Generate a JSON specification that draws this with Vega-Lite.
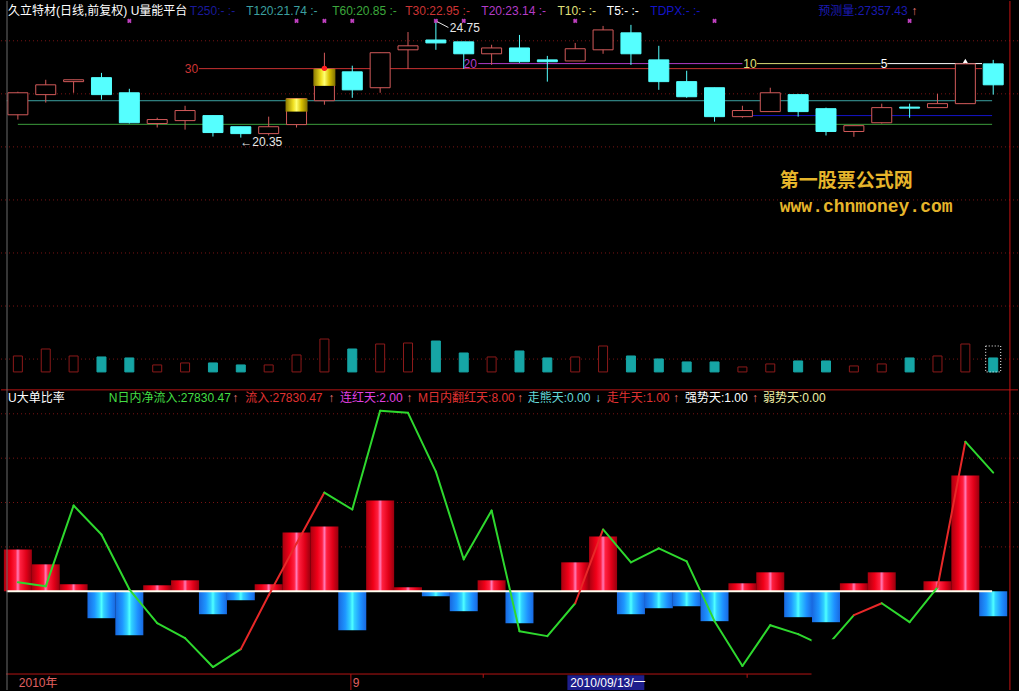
{
"$schema":"https://vega.github.io/schema/vega-lite/v6.json",
"width":1019,"height":691,
"autosize":{"type":"fit","contains":"padding"},
"padding":0,
"background":"#000000",
"config":{"view":{"stroke":null}},
"resolve":{"scale":{"y":"independent","color":"independent","fill":"independent","stroke":"independent"}},
"datasets":{
"k":[
{"i":1,"o":21.21,"h":22.08,"l":21.03,"c":22.04,"v":16,"b":9.44,"n":2.02,"s":"g"},
{"i":2,"o":21.97,"h":22.53,"l":21.67,"c":22.34,"v":23,"b":6.07,"n":1.12,"s":"g"},
{"i":3,"o":22.46,"h":22.53,"l":22.04,"c":22.53,"v":16,"b":1.57,"n":19.33,"s":"g"},
{"i":4,"o":22.61,"h":22.79,"l":21.78,"c":21.97,"v":15,"b":-6.07,"n":12.81,"s":"g"},
{"i":5,"o":22.04,"h":22.19,"l":20.88,"c":20.91,"v":14,"b":-9.89,"n":0.45,"s":"g"},
{"i":6,"o":20.88,"h":21.10,"l":20.73,"c":21.03,"v":7,"b":1.35,"n":-7.19,"s":"g"},
{"i":7,"o":20.99,"h":21.55,"l":20.65,"c":21.37,"v":9,"b":2.47,"n":-10.56,"s":"g"},
{"i":8,"o":21.18,"h":21.18,"l":20.39,"c":20.54,"v":9,"b":-5.17,"n":-17.08,"s":"g"},
{"i":9,"o":20.76,"h":20.76,"l":20.35,"c":20.50,"v":7,"b":-2.02,"n":-13.03,"s":"r"},
{"i":10,"o":20.50,"h":21.14,"l":20.43,"c":20.76,"v":7,"b":1.57,"n":-0.90,"s":"r"},
{"i":11,"o":20.84,"h":21.82,"l":20.73,"c":21.82,"v":17,"b":13.26,"n":10.79,"s":"r"},
{"i":12,"o":21.74,"h":23.55,"l":21.59,"c":22.94,"v":33,"b":14.61,"n":22.25,"s":"g"},
{"i":13,"o":22.83,"h":23.06,"l":21.85,"c":22.15,"v":23,"b":-8.76,"n":18.43,"s":"g"},
{"i":14,"o":22.23,"h":23.55,"l":22.04,"c":23.55,"v":28,"b":20.45,"n":40.67,"s":"g"},
{"i":15,"o":23.66,"h":24.33,"l":22.94,"c":23.81,"v":29,"b":0.90,"n":40.22,"s":"g"},
{"i":16,"o":24.03,"h":24.75,"l":23.66,"c":23.92,"v":31,"b":-1.12,"n":26.97,"s":"g"},
{"i":17,"o":23.96,"h":23.96,"l":22.94,"c":23.51,"v":19,"b":-4.49,"n":7.19,"s":"g"},
{"i":18,"o":23.51,"h":23.85,"l":23.09,"c":23.73,"v":15,"b":2.47,"n":18.20,"s":"g"},
{"i":19,"o":23.73,"h":24.22,"l":23.17,"c":23.21,"v":21,"b":-7.19,"n":-8.99,"s":"g"},
{"i":20,"o":23.28,"h":23.43,"l":22.46,"c":23.21,"v":14,"b":0,"n":-10.11,"s":"g"},
{"i":21,"o":23.24,"h":23.92,"l":23.24,"c":23.70,"v":15,"b":6.52,"n":-2.70,"s":"r"},
{"i":22,"o":23.66,"h":24.56,"l":23.51,"c":24.41,"v":26,"b":12.36,"n":13.93,"s":"g"},
{"i":23,"o":24.30,"h":24.60,"l":23.09,"c":23.51,"v":16,"b":-5.17,"n":6.52,"s":"g"},
{"i":24,"o":23.28,"h":23.81,"l":22.15,"c":22.46,"v":13,"b":-3.82,"n":9.66,"s":"g"},
{"i":25,"o":22.46,"h":22.87,"l":21.85,"c":21.89,"v":10,"b":-3.37,"n":6.74,"s":"g"},
{"i":26,"o":22.23,"h":22.23,"l":20.95,"c":21.14,"v":10,"b":-6.74,"n":-6.74,"s":"g"},
{"i":27,"o":21.14,"h":21.55,"l":21.10,"c":21.37,"v":5,"b":1.80,"n":-16.85,"s":"g"},
{"i":28,"o":21.33,"h":22.23,"l":21.33,"c":22.04,"v":8,"b":4.27,"n":-7.64,"s":"g"},
{"i":29,"o":21.97,"h":22.00,"l":21.14,"c":21.33,"v":11,"b":-5.84,"n":-9.66,"s":"g"},
{"i":30,"o":21.44,"h":21.48,"l":20.43,"c":20.58,"v":11,"b":-6.97,"n":-12.58,"s":"g"},
{"i":31,"o":20.58,"h":20.80,"l":20.38,"c":20.80,"v":6,"b":1.80,"n":-5.39,"s":"r"},
{"i":32,"o":20.91,"h":21.63,"l":20.88,"c":21.48,"v":8,"b":4.27,"n":-2.70,"s":"g"},
{"i":33,"o":21.50,"h":21.63,"l":21.10,"c":21.46,"v":14,"b":0,"n":-6.97,"s":"g"},
{"i":34,"o":21.48,"h":22.00,"l":21.48,"c":21.63,"v":16,"b":2.25,"n":0.90,"s":"r"},
{"i":35,"o":21.63,"h":23.21,"l":21.63,"c":23.13,"v":28,"b":26.07,"n":33.71,"s":"g"},
{"i":36,"o":23.13,"h":23.28,"l":21.97,"c":22.34,"v":14,"b":-5.62,"n":26.74,"s":"g"}
],
"lv":[
{"key":"T120","p":21.74,"a":0.6,"b":35.96},
{"key":"T60","p":20.85,"a":1.0,"b":35.96},
{"key":"TDPX","p":21.18,"a":26.9,"b":35.96},
{"key":"T30","p":22.95,"a":7.5,"b":35.6},
{"key":"T20","p":23.14,"a":17.52,"b":27.0},
{"key":"T10","p":23.14,"a":27.52,"b":31.96},
{"key":"T5","p":23.14,"a":32.2,"b":35.6}
],
"tp":[
{"i":0.645,"p":25.124,"t":"久立特材(日线,前复权) U量能平台","k":"name"},
{"i":7.17,"p":25.124,"t":"T250:-  :-","k":"T250"},
{"i":9.191,"p":25.124,"t":"T120:21.74 :-","k":"T120"},
{"i":12.277,"p":25.124,"t":"T60:20.85 :-","k":"T60"},
{"i":14.901,"p":25.124,"t":"T30:22.95 :-","k":"T30"},
{"i":17.631,"p":25.124,"t":"T20:23.14 :-","k":"T20"},
{"i":20.362,"p":25.124,"t":"T10:- :-","k":"T10"},
{"i":22.135,"p":25.124,"t":"T5:- :-","k":"T5"},
{"i":23.695,"p":25.124,"t":"TDPX:- :-","k":"TDPX"},
{"i":29.723,"p":25.124,"t":"预测量:27357.43","k":"YC"},
{"i":33.06,"p":25.124,"t":"↑","k":"up"},
{"i":6.99,"p":22.95,"t":"30","k":"T30"},
{"i":16.99,"p":23.14,"t":"20","k":"T20"},
{"i":27.03,"p":23.14,"t":"10","k":"T10"},
{"i":31.96,"p":23.14,"t":"5","k":"T5"},
{"i":8.98,"p":20.2,"t":"←20.35","k":"ann"},
{"i":16.5,"p":24.49,"t":"24.75","k":"ann"}
],
"tl":[
{"i":0.645,"y":43.6,"t":"U大单比率","k":"name"},
{"i":4.262,"y":43.6,"t":"N日内净流入:27830.47","k":"N"},
{"i":8.695,"y":43.6,"t":"↑","k":"up"},
{"i":9.156,"y":43.6,"t":"流入:27830.47","k":"flow"},
{"i":12.135,"y":43.6,"t":"↑","k":"up"},
{"i":12.56,"y":43.6,"t":"连红天:2.00","k":"lian"},
{"i":14.936,"y":43.6,"t":"↑","k":"up"},
{"i":15.362,"y":43.6,"t":"M日内翻红天:8.00","k":"M"},
{"i":18.908,"y":43.6,"t":"↑","k":"up"},
{"i":19.298,"y":43.6,"t":"走熊天:0.00","k":"bear"},
{"i":21.709,"y":43.6,"t":"↓","k":"down"},
{"i":22.135,"y":43.6,"t":"走牛天:1.00","k":"bull"},
{"i":24.511,"y":43.6,"t":"↑","k":"up"},
{"i":24.936,"y":43.6,"t":"强势天:1.00","k":"strong"},
{"i":27.348,"y":43.6,"t":"↑","k":"up"},
{"i":27.738,"y":43.6,"t":"弱势天:0.00","k":"weak"},
{"i":1.035,"y":-20.67,"t":"2010年","k":"ax"},
{"i":13.02,"y":-20.67,"t":"9","k":"ax"},
{"i":20.82,"y":-20.67,"t":"2010/09/13/一","k":"date"}
]
},
"layer":[
{"data":{"values":[{"g":24},{"g":22},{"g":20},{"g":18},{"g":16},{"g":14},{"g":12}]},
 "mark":{"type":"rule","color":"#7a1414","strokeDash":[1,3],"strokeWidth":1},
 "encoding":{"y":{"field":"g","type":"quantitative","scale":{"domain":[-0.477,25.5],"nice":false,"zero":false},"axis":null}}},
{"data":{"values":[{"g":10},{"g":20},{"g":30},{"g":40}]},
 "mark":{"type":"rule","color":"#7a1414","strokeDash":[1,3],"strokeWidth":1},
 "encoding":{"y":{"field":"g","type":"quantitative","scale":{"domain":[-22.25,133.03],"nice":false,"zero":false},"axis":null}}},
{"data":{"name":"lv"},
 "mark":{"type":"rule","strokeWidth":1},
 "encoding":{
  "x":{"field":"a","type":"quantitative","scale":{"domain":[0.574,36.71],"nice":false,"zero":false},"axis":null},
  "x2":{"field":"b"},
  "y":{"field":"p","type":"quantitative","scale":{"domain":[-0.477,25.5],"nice":false,"zero":false},"axis":null},
  "color":{"field":"key","type":"nominal","legend":null,"scale":{"domain":["T120","T60","TDPX","T30","T20","T10","T5"],"range":["#3ca0a0","#3c9c3c","#1414c8","#c83232","#b03cc8","#dcdc78","#ffffff"]}}}},
{"data":{"name":"k"},
 "mark":{"type":"bar","width":9,"strokeWidth":1},
 "encoding":{
  "x":{"field":"i","type":"quantitative","scale":{"domain":[0.574,36.71],"nice":false,"zero":false},"axis":null},
  "y":{"field":"v","type":"quantitative","scale":{"domain":[-319,372],"nice":false,"zero":false},"axis":null},
  "y2":{"datum":0},
  "fill":{"condition":{"test":"datum.c >= datum.o","value":"#000000"},"value":"#16a5a5"},
  "stroke":{"condition":{"test":"datum.c >= datum.o","value":"#8c1a1a"},"value":"#16a5a5"}}},
{"data":{"values":[{"i":36,"v":26}]},
 "mark":{"type":"bar","width":15,"fillOpacity":0,"stroke":"#ffffff","strokeDash":[1,2],"strokeWidth":1},
 "encoding":{
  "x":{"field":"i","type":"quantitative","scale":{"domain":[0.574,36.71],"nice":false,"zero":false},"axis":null},
  "y":{"field":"v","type":"quantitative","scale":{"domain":[-319,372],"nice":false,"zero":false},"axis":null},
  "y2":{"datum":0}}},
{"data":{"name":"k"},
 "mark":{"type":"rule","strokeWidth":1},
 "encoding":{
  "x":{"field":"i","type":"quantitative","scale":{"domain":[0.574,36.71],"nice":false,"zero":false},"axis":null},
  "y":{"field":"l","type":"quantitative","scale":{"domain":[-0.477,25.5],"nice":false,"zero":false},"axis":null},
  "y2":{"field":"h"},
  "color":{"condition":{"test":"datum.c >= datum.o","value":"#d25a5a"},"value":"#55ffff"}}},
{"data":{"name":"k"},
 "mark":{"type":"bar","width":20,"strokeWidth":1},
 "encoding":{
  "x":{"field":"i","type":"quantitative","scale":{"domain":[0.574,36.71],"nice":false,"zero":false},"axis":null},
  "y":{"field":"o","type":"quantitative","scale":{"domain":[-0.477,25.5],"nice":false,"zero":false},"axis":null},
  "y2":{"field":"c"},
  "fill":{"condition":{"test":"datum.c >= datum.o","value":"#000000"},"value":"#55ffff"},
  "stroke":{"condition":{"test":"datum.c >= datum.o","value":"#d25a5a"},"value":"#55ffff"}}},
{"data":{"values":[{"i":11,"g1":21.82,"g2":21.33},{"i":12,"g1":22.94,"g2":22.3}]},
 "mark":{"type":"bar","width":22,"fill":{"gradient":"linear","x1":0,"y1":0,"x2":1,"y2":0,"stops":[{"offset":0,"color":"#8a7800"},{"offset":0.35,"color":"#f0e020"},{"offset":0.5,"color":"#ffff70"},{"offset":0.72,"color":"#d8c000"},{"offset":1,"color":"#807000"}]}},
 "encoding":{
  "x":{"field":"i","type":"quantitative","scale":{"domain":[0.574,36.71],"nice":false,"zero":false},"axis":null},
  "y":{"field":"g1","type":"quantitative","scale":{"domain":[-0.477,25.5],"nice":false,"zero":false},"axis":null},
  "y2":{"field":"g2"}}},
{"data":{"values":[{"i":12,"p":22.96}]},
 "mark":{"type":"point","shape":"circle","filled":true,"size":30,"color":"#ff2020","opacity":1},
 "encoding":{
  "x":{"field":"i","type":"quantitative","scale":{"domain":[0.574,36.71],"nice":false,"zero":false},"axis":null},
  "y":{"field":"p","type":"quantitative","scale":{"domain":[-0.477,25.5],"nice":false,"zero":false},"axis":null}}},
{"data":{"values":[{"i":35,"p":23.24}]},
 "mark":{"type":"point","shape":"triangle-up","filled":true,"size":25,"color":"#ffffff","opacity":1},
 "encoding":{
  "x":{"field":"i","type":"quantitative","scale":{"domain":[0.574,36.71],"nice":false,"zero":false},"axis":null},
  "y":{"field":"p","type":"quantitative","scale":{"domain":[-0.477,25.5],"nice":false,"zero":false},"axis":null}}},
{"data":{"values":[{"i":5},{"i":11},{"i":12},{"i":13},{"i":16},{"i":17},{"i":21},{"i":26},{"i":33}]},
 "mark":{"type":"point","shape":"cross","angle":45,"filled":true,"size":22,"color":"#c040c0","opacity":1},
 "encoding":{
  "x":{"field":"i","type":"quantitative","scale":{"domain":[0.574,36.71],"nice":false,"zero":false},"axis":null},
  "y":{"datum":24.75,"type":"quantitative","scale":{"domain":[-0.477,25.5],"nice":false,"zero":false},"axis":null}}},
{"data":{"values":[{"i":16.05,"p":24.72,"i2":16.45,"p2":24.5}]},
 "mark":{"type":"rule","color":"#e8e8e8","strokeWidth":1},
 "encoding":{
  "x":{"field":"i","type":"quantitative","scale":{"domain":[0.574,36.71],"nice":false,"zero":false},"axis":null},
  "x2":{"field":"i2"},
  "y":{"field":"p","type":"quantitative","scale":{"domain":[-0.477,25.5],"nice":false,"zero":false},"axis":null},
  "y2":{"field":"p2"}}},
{"data":{"name":"tp"},
 "mark":{"type":"text","align":"left","baseline":"middle","fontSize":12,"font":"Liberation Sans, Noto Sans CJK SC"},
 "encoding":{
  "x":{"field":"i","type":"quantitative","scale":{"domain":[0.574,36.71],"nice":false,"zero":false},"axis":null},
  "y":{"field":"p","type":"quantitative","scale":{"domain":[-0.477,25.5],"nice":false,"zero":false},"axis":null},
  "text":{"field":"t"},
  "color":{"field":"k","type":"nominal","legend":null,"scale":{"domain":["name","T250","T120","T60","T30","T20","T10","T5","TDPX","YC","up","ann"],"range":["#ffffff","#1a1a9a","#3ca0a0","#3ca83c","#cc3434","#b43cc8","#e0e07a","#ffffff","#1414c8","#1a1ab0","#e87878","#e8e8e8"]}}}},
{"data":{"values":[{"i":28.34,"p":18.73,"t":"第一股票公式网"}]},
 "mark":{"type":"text","align":"left","baseline":"middle","fontSize":19,"fontWeight":"bold","font":"Noto Sans CJK SC","color":"#e6b52b"},
 "encoding":{
  "x":{"field":"i","type":"quantitative","scale":{"domain":[0.574,36.71],"nice":false,"zero":false},"axis":null},
  "y":{"field":"p","type":"quantitative","scale":{"domain":[-0.477,25.5],"nice":false,"zero":false},"axis":null},
  "text":{"field":"t"}}},
{"data":{"values":[{"i":28.34,"p":17.72,"t":"www.chnmoney.com"}]},
 "mark":{"type":"text","align":"left","baseline":"middle","fontSize":18,"fontWeight":"bold","font":"Liberation Mono","color":"#e6b52b"},
 "encoding":{
  "x":{"field":"i","type":"quantitative","scale":{"domain":[0.574,36.71],"nice":false,"zero":false},"axis":null},
  "y":{"field":"p","type":"quantitative","scale":{"domain":[-0.477,25.5],"nice":false,"zero":false},"axis":null},
  "text":{"field":"t"}}},
{"data":{"name":"k"},
 "transform":[{"filter":"datum.b > 0"}],
 "mark":{"type":"bar","width":28,"fill":{"gradient":"linear","x1":0,"y1":0,"x2":1,"y2":0,"stops":[{"offset":0,"color":"#a8000e"},{"offset":0.25,"color":"#f00018"},{"offset":0.42,"color":"#ff2040"},{"offset":0.5,"color":"#ff7ab8"},{"offset":0.58,"color":"#ff2040"},{"offset":0.8,"color":"#e00018"},{"offset":1,"color":"#98000e"}]}},
 "encoding":{
  "x":{"field":"i","type":"quantitative","scale":{"domain":[0.574,36.71],"nice":false,"zero":false},"axis":null},
  "y":{"field":"b","type":"quantitative","scale":{"domain":[-22.25,133.03],"nice":false,"zero":false},"axis":null},
  "y2":{"datum":0}}},
{"data":{"name":"k"},
 "transform":[{"filter":"datum.b < 0"}],
 "mark":{"type":"bar","width":28,"fill":{"gradient":"linear","x1":0,"y1":0,"x2":1,"y2":0,"stops":[{"offset":0,"color":"#1868e0"},{"offset":0.25,"color":"#1e96ff"},{"offset":0.42,"color":"#30d0ff"},{"offset":0.5,"color":"#50ffff"},{"offset":0.58,"color":"#30d0ff"},{"offset":0.8,"color":"#1e90ff"},{"offset":1,"color":"#1868e0"}]}},
 "encoding":{
  "x":{"field":"i","type":"quantitative","scale":{"domain":[0.574,36.71],"nice":false,"zero":false},"axis":null},
  "y":{"field":"b","type":"quantitative","scale":{"domain":[-22.25,133.03],"nice":false,"zero":false},"axis":null},
  "y2":{"datum":0}}},
{"data":{"values":[{"i":0.6,"i2":35.96,"z":0}]},
 "mark":{"type":"rule","color":"#fffff0","strokeWidth":2},
 "encoding":{
  "x":{"field":"i","type":"quantitative","scale":{"domain":[0.574,36.71],"nice":false,"zero":false},"axis":null},
  "x2":{"field":"i2"},
  "y":{"field":"z","type":"quantitative","scale":{"domain":[-22.25,133.03],"nice":false,"zero":false},"axis":null}}},
{"data":{"name":"k"},
 "transform":[{"window":[{"op":"lead","field":"i","as":"i2"},{"op":"lead","field":"n","as":"n2"}],"sort":[{"field":"i","order":"ascending"}]},{"filter":"datum.i2 != null"}],
 "mark":{"type":"rule","strokeWidth":2,"strokeCap":"round"},
 "encoding":{
  "x":{"field":"i","type":"quantitative","scale":{"domain":[0.574,36.71],"nice":false,"zero":false},"axis":null},
  "x2":{"field":"i2"},
  "y":{"field":"n","type":"quantitative","scale":{"domain":[-22.25,133.03],"nice":false,"zero":false},"axis":null},
  "y2":{"field":"n2"},
  "color":{"condition":{"test":"datum.s == 'r'","value":"#e82828"},"value":"#2ed82e"}}},
{"data":{"values":[{"i":29.48,"i2":36.55,"y":-22.25,"y2":-10.8}]},
 "mark":{"type":"rect","color":"#000000","opacity":1},
 "encoding":{
  "x":{"field":"i","type":"quantitative","scale":{"domain":[0.574,36.71],"nice":false,"zero":false},"axis":null},
  "x2":{"field":"i2"},
  "y":{"field":"y","type":"quantitative","scale":{"domain":[-22.25,133.03],"nice":false,"zero":false},"axis":null},
  "y2":{"field":"y2"}}},
{"data":{"values":[{"i":20.72,"i2":23.48,"y":-18.9,"y2":-22.25}]},
 "mark":{"type":"rect","color":"#1e1e8c","opacity":1},
 "encoding":{
  "x":{"field":"i","type":"quantitative","scale":{"domain":[0.574,36.71],"nice":false,"zero":false},"axis":null},
  "x2":{"field":"i2"},
  "y":{"field":"y","type":"quantitative","scale":{"domain":[-22.25,133.03],"nice":false,"zero":false},"axis":null},
  "y2":{"field":"y2"}}},
{"data":{"values":[{"i":0.574,"i2":29.48,"y":-18.65}]},
 "mark":{"type":"rule","color":"#b41414","strokeWidth":1},
 "encoding":{
  "x":{"field":"i","type":"quantitative","scale":{"domain":[0.574,36.71],"nice":false,"zero":false},"axis":null},
  "x2":{"field":"i2"},
  "y":{"field":"y","type":"quantitative","scale":{"domain":[-22.25,133.03],"nice":false,"zero":false},"axis":null}}},
{"data":{"values":[{"i":12.95,"y":-18.65,"y2":-22.25},{"i":17.7,"y":-18.65,"y2":-19.5},{"i":27.17,"y":-18.65,"y2":-19.5}]},
 "mark":{"type":"rule","color":"#b41414","strokeWidth":1},
 "encoding":{
  "x":{"field":"i","type":"quantitative","scale":{"domain":[0.574,36.71],"nice":false,"zero":false},"axis":null},
  "y":{"field":"y","type":"quantitative","scale":{"domain":[-22.25,133.03],"nice":false,"zero":false},"axis":null},
  "y2":{"field":"y2"}}},
{"data":{"name":"tl"},
 "mark":{"type":"text","align":"left","baseline":"middle","fontSize":12,"font":"Liberation Sans, Noto Sans CJK SC"},
 "encoding":{
  "x":{"field":"i","type":"quantitative","scale":{"domain":[0.574,36.71],"nice":false,"zero":false},"axis":null},
  "y":{"field":"y","type":"quantitative","scale":{"domain":[-22.25,133.03],"nice":false,"zero":false},"axis":null},
  "text":{"field":"t"},
  "color":{"field":"k","type":"nominal","legend":null,"scale":{"domain":["name","N","flow","lian","M","bear","bull","strong","weak","up","down","ax","date"],"range":["#ffffff","#44dd44","#e03232","#e040e0","#e03232","#66d8d8","#e03232","#ffffff","#f0f0a8","#e87878","#88e8ff","#e06060","#ffffff"]}}}},
{"data":{"values":[{"y":45.39}]},
 "mark":{"type":"rule","color":"#b41414","strokeWidth":1},
 "encoding":{"y":{"field":"y","type":"quantitative","scale":{"domain":[-22.25,133.03],"nice":false,"zero":false},"axis":null}}},
{"data":{"values":[{"i":36.6,"k":"r"},{"i":0.61,"k":"l"}]},
 "mark":{"type":"rule","strokeWidth":1},
 "encoding":{
  "x":{"field":"i","type":"quantitative","scale":{"domain":[0.574,36.71],"nice":false,"zero":false},"axis":null},
  "color":{"field":"k","type":"nominal","legend":null,"scale":{"domain":["r","l"],"range":["#c81414","#6a6a6a"]}}}}
]
}
